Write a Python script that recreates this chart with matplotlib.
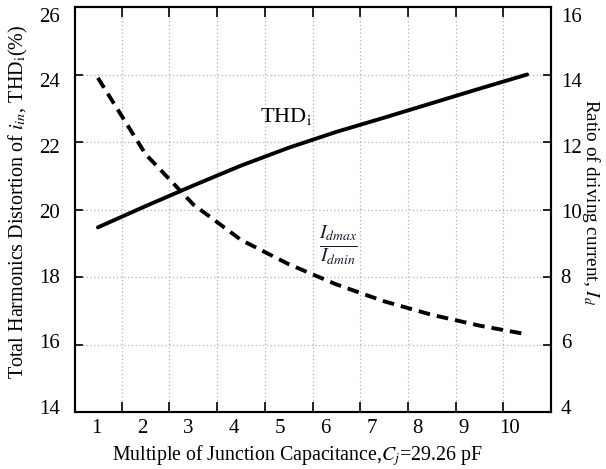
import numpy as np
import matplotlib
matplotlib.use('Agg')
import matplotlib.pyplot as plt

plt.rcParams['font.family'] = ['Liberation Serif', 'DejaVu Serif']
plt.rcParams['mathtext.fontset'] = 'stix'

# data
multiple = [1, 2, 3, 4, 5, 6, 7, 8, 9, 10]
thd_i = [19.47, 20.10, 20.71, 21.30, 21.83, 22.30, 22.72, 23.15, 23.58, 24.0]
ratio_id = [13.9, 11.64, 10.15, 9.1, 8.38, 7.78, 7.28, 6.88, 6.56, 6.30]
x_labels = ['1', '2', '3', '4', '5', '6', '7', '8', '9', '10']
left_ticks = [14, 16, 18, 20, 22, 24, 26]
right_ticks = [4, 6, 8, 10, 12, 14, 16]

fig = plt.figure(figsize=(6.06, 4.69), dpi=100)
ax = fig.add_axes([75 / 606, 1 - 412 / 469, 476 / 606, 405 / 469])
ax2 = ax.twinx()

ax.plot(multiple, thd_i, color='black', lw=2.8, solid_capstyle='round')
ax2.plot(multiple, ratio_id, color='black', lw=2.8, linestyle=(0, (3, 1.8)))

ax.set_xlim(0.52, 10.5)
ax.set_ylim(14, 26)
ax2.set_ylim(4, 16)

# tick labels in the reference sit a bit off the tick marks, as in the original figure
lbl_pos = 0.96 + 0.963 * (np.array(multiple) - 1)
ax.set_xticks(lbl_pos)
ax.set_xticklabels(x_labels)
ax.set_xticks(np.arange(1.5, 10, 1), minor=True)
ax.tick_params(axis='x', which='major', length=0, labelsize=15, pad=5)
ax.tick_params(axis='x', which='minor', direction='in', length=7, width=1.2,
               top=True, bottom=True)

lt = np.array(left_ticks)
ax.set_yticks(25.76 - (26 - lt) * 0.967)
ax.set_yticklabels([str(v) for v in left_ticks])
ax.set_yticks(lt[1:-1], minor=True)
ax.tick_params(axis='y', which='major', length=0, labelsize=15, pad=11)
ax.tick_params(axis='y', which='minor', direction='in', length=6, width=1.2)

rt = np.array(right_ticks)
ax2.set_yticks(15.76 - (16 - rt) * 0.967)
ax2.set_yticklabels([str(v) for v in right_ticks])
ax2.set_yticks(rt[1:-1], minor=True)
ax2.tick_params(axis='y', which='major', length=0, labelsize=15, pad=7)
ax2.tick_params(axis='y', which='minor', direction='in', length=6, width=1.2)

ax.grid(True, which='minor', axis='both', linestyle=(0, (1, 2)), color='#b0b0b0', lw=0.9)

for a in (ax, ax2):
    for s in a.spines.values():
        s.set_linewidth(1.5)

ax.set_xlabel('Multiple of Junction Capacitance,$C_j$=29.26 pF', fontsize=14.3)
ax.xaxis.set_label_coords(0.466, -0.078)
ax.set_ylabel('Total Harmonics Distortion of $i_{in}$, THD$_\\mathrm{i}$(%)', fontsize=14.5)
ax.yaxis.set_label_coords(-0.095, 0.518)
ax2.set_ylabel('Ratio of driving current, $I_d$', fontsize=13.8, rotation=270, va='bottom')
ax2.yaxis.set_label_coords(1.06, 0.518)

ax.text(4.95, 22.77, 'THD$_\\mathrm{i}$', fontsize=16, ha='center', va='center')
ax.text(6.05, 18.95, r'$\frac{I_{dmax}}{I_{dmin}}$', fontsize=20, ha='center', va='center',
        color='#1a1a2e')

fig.savefig('out.png', dpi=100)
